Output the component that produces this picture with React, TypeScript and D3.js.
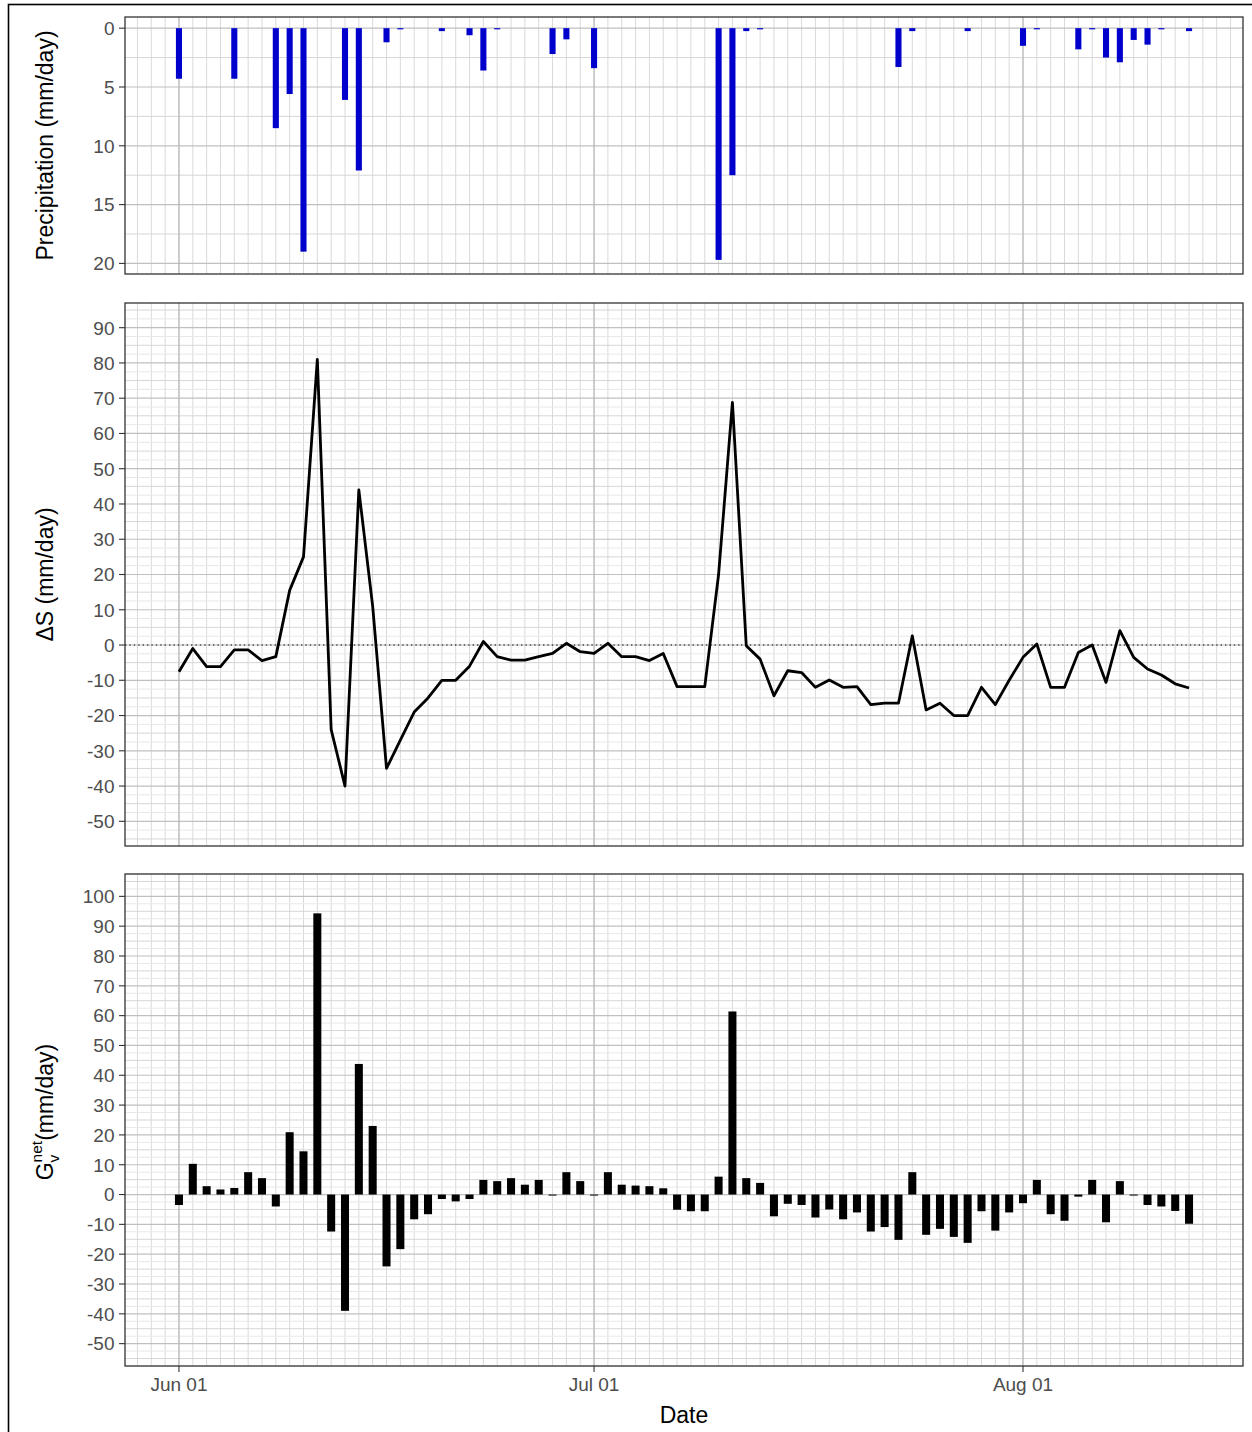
import React from "react";
import * as d3 from "d3";

// first day of the daily series
const startDate = "2019-06-01";

// daily precipitation (mm/day)
const precipitation = [
  4.3, 0, 0, 0, 4.3, 0, 0, 8.5, 5.6, 19.0,
  0, 0, 6.1, 12.1, 0, 1.2, 0.1, 0, 0, 0.25,
  0, 0.6, 3.6, 0.1, 0, 0, 0, 2.2, 0.95, 0,
  3.4, 0, 0, 0, 0, 0, 0, 0, 0, 19.7,
  12.5, 0.25, 0.1, 0, 0, 0, 0, 0, 0, 0,
  0, 0, 3.3, 0.25, 0, 0, 0, 0.25, 0, 0,
  0, 1.5, 0.1, 0, 0, 1.8, 0.1, 2.5, 2.9, 1.0,
  1.4, 0.1, 0, 0.25,
];

// daily storage change ΔS (mm/day)
const deltaS = [
  -7.6, -1, -6.1, -6.1, -1.4, -1.4, -4.4, -3.3, 15.5, 25,
  81, -24, -40, 44, 11, -35, -27, -19, -15, -10,
  -10, -6, 1, -3.3, -4.3, -4.3, -3.3, -2.4, 0.5, -1.9,
  -2.4, 0.5, -3.3, -3.3, -4.4, -2.4, -11.8, -11.8, -11.8, 20,
  68.8, -0.2, -4, -14.4, -7.3, -7.8, -12, -9.9, -12, -11.8,
  -16.9, -16.5, -16.5, 2.6, -18.4, -16.5, -20, -20, -12, -16.9,
  -10, -3.5, 0.3, -12, -12, -2.1, 0, -10.6, 4.1, -3.5,
  -6.8, -8.5, -11, -12.2,
];

// daily net vertical exchange G_v^net (mm/day)
const gNet = [
  -3.5, 10.3, 2.8, 1.7, 2.2, 7.5, 5.5, -4.0, 20.9, 14.5,
  94.3, -12.4, -39, 43.8, 23.0, -24.1, -18.3, -8.3, -6.6, -1.5,
  -2.3, -1.5, 4.9, 4.5, 5.5, 3.3, 4.9, -0.3, 7.5, 4.5,
  -0.3, 7.5, 3.3, 3.0, 2.8, 2.1, -5.1, -5.6, -5.6, 6.0,
  61.4, 5.5, 3.9, -7.3, -3.1, -3.5, -7.7, -5.0, -8.3, -6.0,
  -12.4, -10.9, -15.2, 7.5, -13.5, -11.5, -14.2, -16.2, -5.6, -12.1,
  -6.0, -2.9, 4.9, -6.6, -8.8, -0.7, 4.9, -9.3, 4.5, -0.2,
  -3.5, -4.0, -5.5, -9.8,
];

const precipTicks = [0, 5, 10, 15, 20];
const deltaSTicks = [-50, -40, -30, -20, -10, 0, 10, 20, 30, 40, 50, 60, 70, 80, 90];
const gNetTicks = [-50, -40, -30, -20, -10, 0, 10, 20, 30, 40, 50, 60, 70, 80, 90, 100];

const FONT = "'Liberation Sans', Arial, Helvetica, sans-serif";
const W = 1252;
const H = 1432;
const XL = 125;
const XR = 1243;
const DAY = 864e5;

const TICK_SIZE = 19;
const TITLE_SIZE = 23;

type Level = "major" | "mid" | "fine";

function hLines(y: d3.ScaleLinear<number, number>, majorStep: number, midStep: number, fineStep: number | null) {
  const [a, b] = y.domain();
  const lo = Math.min(a, b);
  const hi = Math.max(a, b);
  const step = fineStep ?? midStep;
  const out: { v: number; level: Level }[] = [];
  for (let v = Math.ceil(lo / step) * step; v <= hi + 1e-9; v += step) {
    const r = Math.round(v * 100) / 100;
    const isMajor = Math.abs(r / majorStep - Math.round(r / majorStep)) < 1e-6;
    const isMid = Math.abs(r / midStep - Math.round(r / midStep)) < 1e-6;
    out.push({ v: r, level: isMajor ? "major" : isMid ? "mid" : "fine" });
  }
  return out;
}

const lineColor: Record<Level, string> = {
  major: "#C0C0C0",
  mid: "#D6D6D6",
  fine: "#E8E8E8",
};

export default function App() {
  const start = d3.utcParse("%Y-%m-%d")(startDate) as Date;
  const dates = precipitation.map((_, i) => d3.utcDay.offset(start, i));
  const x = d3
    .scaleUtc()
    .domain([new Date(+dates[0] - 3.9 * DAY), new Date(+dates[dates.length - 1] + 3.9 * DAY)])
    .range([XL, XR]);
  const dayLines = d3.utcDay.range(x.domain()[0], x.domain()[1]);
  const monthLines = d3.utcMonth.range(x.domain()[0], x.domain()[1]);
  const fmt = d3.utcFormat("%b %d");

  const p1 = { top: 17, bottom: 274 };
  const p2 = { top: 303, bottom: 846 };
  const p3 = { top: 874, bottom: 1366 };

  const yP = d3.scaleLinear().domain([-0.95, 20.9]).range([p1.top, p1.bottom]);
  const yS = d3.scaleLinear().domain([-57, 97]).range([p2.bottom, p2.top]);
  const yG = d3.scaleLinear().domain([-57.5, 107.5]).range([p3.bottom, p3.top]);

  const dayPx = x(dates[1]) - x(dates[0]);
  const precipW = dayPx * 0.44;
  const gW = dayPx * 0.58;

  const line = d3
    .line<number>()
    .x((_, i) => x(dates[i]))
    .y((d) => yS(d));

  const grid = (
    y: d3.ScaleLinear<number, number>,
    top: number,
    bottom: number,
    majorStep: number,
    midStep: number,
    fineStep: number | null
  ) => {
    const hs = hLines(y, majorStep, midStep, fineStep);
    const order: Level[] = ["fine", "mid", "major"];
    return (
      <g>
        <rect x={XL} y={top} width={XR - XL} height={bottom - top} fill="#FFFFFF" />
        {dayLines.map((d, i) => (
          <line key={"d" + i} x1={x(d)} x2={x(d)} y1={top} y2={bottom} stroke="#DADADA" strokeWidth={1} />
        ))}
        {order.map((lv) =>
          hs
            .filter((h) => h.level === lv)
            .map((h, i) => (
              <line
                key={lv + i}
                x1={XL}
                x2={XR}
                y1={y(h.v)}
                y2={y(h.v)}
                stroke={lineColor[lv]}
                strokeWidth={lv === "major" ? 1.2 : 1}
              />
            ))
        )}
        {monthLines.map((d, i) => (
          <line key={"m" + i} x1={x(d)} x2={x(d)} y1={top} y2={bottom} stroke="#B8B8B8" strokeWidth={1.2} />
        ))}
      </g>
    );
  };

  const yAxis = (y: d3.ScaleLinear<number, number>, ticks: number[]) => (
    <g>
      {ticks.map((t) => (
        <g key={t}>
          <line x1={XL - 6} x2={XL} y1={y(t)} y2={y(t)} stroke="#333333" strokeWidth={1.1} />
          <text
            x={XL - 10.5}
            y={y(t)}
            dy="0.36em"
            textAnchor="end"
            fontSize={TICK_SIZE}
            fill="#4D4D4D"
            fontFamily={FONT}
          >
            {t}
          </text>
        </g>
      ))}
    </g>
  );

  const border = (top: number, bottom: number) => (
    <rect x={XL} y={top} width={XR - XL} height={bottom - top} fill="none" stroke="#333333" strokeWidth={1.3} />
  );

  // pieces of the G_v^net axis title, laid out along the rotated baseline
  const gWidth = 0.778 * TITLE_SIZE;
  const supSize = 15.5;
  const netWidth = 1.39 * supSize;
  const unitWidth = 4.222 * TITLE_SIZE;
  const gTotal = gWidth + netWidth + unitWidth;
  const g0 = -gTotal / 2;

  return (
    <svg
      width={W}
      height={H}
      style={{ position: "absolute", left: 0, top: 0, background: "#FFFFFF" }}
      fontFamily={FONT}
    >
      <rect x={0} y={0} width={W} height={H} fill="#FFFFFF" />
      <rect x={8.5} y={4.5} width={W + 10} height={H + 10} fill="none" stroke="#000000" strokeWidth={1.6} />

      {/* Precipitation panel */}
      {grid(yP, p1.top, p1.bottom, 5, 2.5, null)}
      {precipitation.map((v, i) =>
        v > 0 ? (
          <rect
            key={"p" + i}
            x={x(dates[i]) - precipW / 2}
            y={yP(0)}
            width={precipW}
            height={Math.max(yP(v) - yP(0), 0)}
            fill="#0000CD"
          />
        ) : null
      )}
      {border(p1.top, p1.bottom)}
      {yAxis(yP, precipTicks)}
      <text
        transform={`translate(53,${(p1.top + p1.bottom) / 2}) rotate(-90)`}
        textAnchor="middle"
        fontSize={TITLE_SIZE}
        fill="#000000"
      >
        Precipitation (mm/day)
      </text>

      {/* Storage change panel */}
      {grid(yS, p2.top, p2.bottom, 10, 5, 2.5)}
      <line
        x1={XL}
        x2={XR}
        y1={yS(0)}
        y2={yS(0)}
        stroke="#000000"
        strokeWidth={1.2}
        strokeDasharray="1.4 3"
      />
      <path d={line(deltaS) || ""} fill="none" stroke="#000000" strokeWidth={2.8} strokeLinejoin="round" />
      {border(p2.top, p2.bottom)}
      {yAxis(yS, deltaSTicks)}
      <text
        transform={`translate(53,${(p2.top + p2.bottom) / 2}) rotate(-90)`}
        textAnchor="middle"
        fontSize={TITLE_SIZE}
        fill="#000000"
      >
        ΔS (mm/day)
      </text>

      {/* Net vertical exchange panel */}
      {grid(yG, p3.top, p3.bottom, 10, 5, 2.5)}
      {gNet.map((v, i) => (
        <rect
          key={"g" + i}
          x={x(dates[i]) - gW / 2}
          y={Math.min(yG(v), yG(0))}
          width={gW}
          height={Math.max(Math.abs(yG(v) - yG(0)), 1)}
          fill="#000000"
        />
      ))}
      {border(p3.top, p3.bottom)}
      {yAxis(yG, gNetTicks)}
      <g transform={`translate(53,${(p3.top + p3.bottom) / 2 - 8}) rotate(-90)`} fill="#000000">
        <text x={g0} y={0} fontSize={TITLE_SIZE}>
          G
        </text>
        <text x={g0 + gWidth} y={-11} fontSize={supSize}>
          net
        </text>
        <text x={g0 + gWidth} y={6} fontSize={supSize}>
          v
        </text>
        <text x={g0 + gWidth + netWidth} y={0} fontSize={TITLE_SIZE}>
          (mm/day)
        </text>
      </g>

      {/* Shared date axis */}
      {monthLines.map((d, i) => (
        <g key={"xt" + i}>
          <line x1={x(d)} x2={x(d)} y1={p3.bottom} y2={p3.bottom + 6} stroke="#333333" strokeWidth={1.1} />
          <text
            x={x(d)}
            y={p3.bottom + 25}
            textAnchor="middle"
            fontSize={TICK_SIZE}
            fill="#4D4D4D"
          >
            {fmt(d)}
          </text>
        </g>
      ))}
      <text x={(XL + XR) / 2} y={1423} textAnchor="middle" fontSize={TITLE_SIZE} fill="#000000">
        Date
      </text>
    </svg>
  );
}
